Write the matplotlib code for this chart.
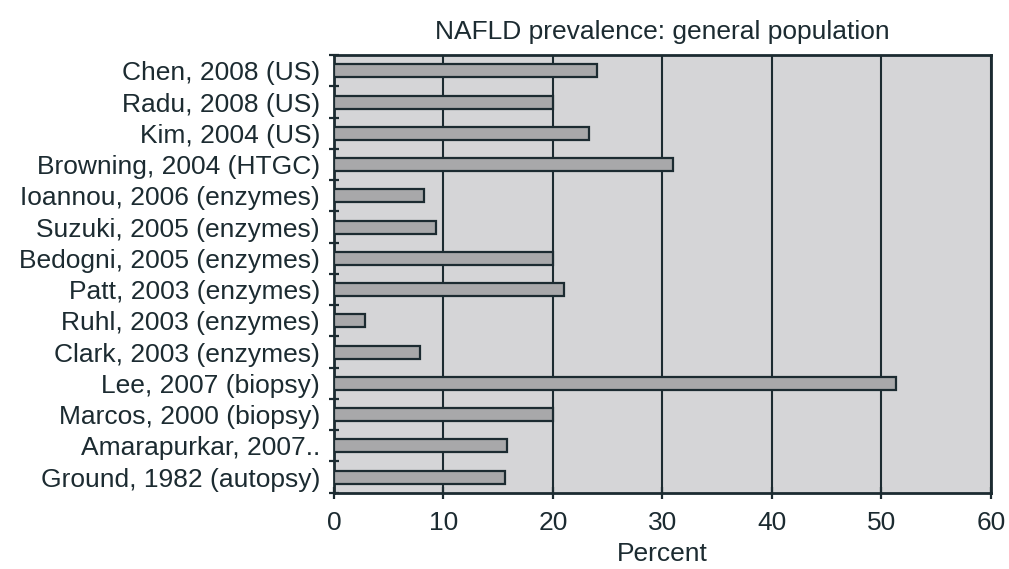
import matplotlib
matplotlib.use('Agg')
import matplotlib.pyplot as plt
import numpy as np

plt.rcParams['font.family'] = ['Liberation Sans', 'DejaVu Sans']

# data
studies = ['Chen, 2008 (US)', 'Radu, 2008 (US)', 'Kim, 2004 (US)', 'Browning, 2004 (HTGC)',
           'Ioannou, 2006 (enzymes)', 'Suzuki, 2005 (enzymes)', 'Bedogni, 2005 (enzymes)',
           'Patt, 2003 (enzymes)', 'Ruhl, 2003 (enzymes)', 'Clark, 2003 (enzymes)',
           'Lee, 2007 (biopsy)', 'Marcos, 2000 (biopsy)', 'Amarapurkar, 2007..',
           'Ground, 1982 (autopsy)']
prevalence = [24.0, 20.0, 23.3, 31.0, 8.2, 9.3, 20.0, 21.0, 2.8, 7.9, 51.3, 20.0, 15.8, 15.6]
xticks = [0, 10, 20, 30, 40, 50, 60]

dark = '#1c2b31'
fs = 19
fig = plt.figure(figsize=(10.09, 5.69), dpi=100)
ax = fig.add_axes([0.331, 0.134, 0.651, 0.769])
ax.set_facecolor('#d5d5d7')

y = np.arange(len(studies))
ax.barh(y, prevalence, height=0.42, color='#a8a8aa', edgecolor=dark, linewidth=1.6, zorder=3)

ax.set_xlim(0, 60)
ax.set_ylim(len(studies) - 0.5, -0.5)
ax.set_xticks(xticks)
ax.set_xticklabels([str(t) for t in xticks], fontsize=fs, color=dark)
ax.set_yticks(y)
ax.set_yticklabels(studies, fontsize=fs, color=dark)
ax.set_yticks(np.arange(len(studies) + 1) - 0.5, minor=True)
ax.tick_params(axis='y', which='major', length=0, pad=10)
ax.tick_params(axis='y', which='minor', length=7, width=1.6, color=dark, direction='inout')
ax.tick_params(axis='x', length=8, width=1.6, color=dark, direction='inout', pad=9)

ax.grid(axis='x', color=dark, linewidth=1.5, zorder=1)
for s in ax.spines.values():
    s.set_color(dark)
    s.set_linewidth(2)

ax.set_xlabel('Percent', fontsize=fs, color=dark, labelpad=5)
ax.set_title('NAFLD prevalence: general population', fontsize=fs, color=dark, pad=12)

fig.savefig('out.png', dpi=100)
